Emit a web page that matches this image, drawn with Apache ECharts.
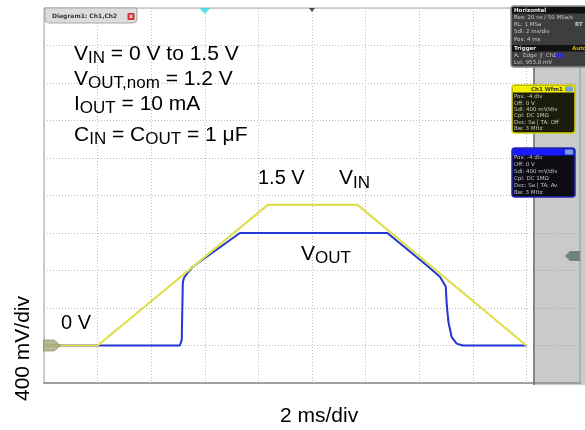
<!DOCTYPE html>
<html>
<head>
<meta charset="utf-8">
<script src="https://cdn.jsdelivr.net/npm/echarts@6/dist/echarts.min.js"></script>
<style>
  html, body { margin: 0; padding: 0; background: #fff; }
  #chart { width: 585px; height: 430px; }
</style>
</head>
<body>
<div id="chart"></div>
<script>
// Time base: 2 ms/div, 10 divisions; vertical: 400 mV/div, ground one division above bottom.
const xTicks = [0, 2, 4, 6, 8, 10, 12, 14, 16, 18, 20];          // ms
const yTicks = [-0.4, 0, 0.4, 0.8, 1.2, 1.6, 2.0, 2.4, 2.8, 3.2, 3.6]; // V

// CH1: input voltage ramp 0 V -> 1.5 V -> 0 V
const vinTime = [0, 2.0, 8.35, 11.7, 18.0];
const vinVolt = [0, 0, 1.5, 1.5, 0];

// CH2: regulator output, 1.2 V nominal
const voutTime = [0, 5.07, 5.14, 5.18, 5.22, 5.37, 5.55, 7.31, 12.81, 14.3, 14.78, 14.99, 15.03, 15.09, 15.21, 15.40, 15.62, 18.0];
const voutVolt = [0, 0, 0.06, 0.67, 0.72, 0.78, 0.84, 1.2, 1.2, 0.85, 0.73, 0.63, 0.43, 0.25, 0.09, 0.02, 0, 0];

// Scope markers: ground reference, trigger position, screen centre, trigger level
const markerTime = [0, 6, 10, 20];
const markerVolt = [0, 3.6, 3.6, 0.9538];

const FONT = '"Liberation Sans", Arial, Helvetica, sans-serif';
const MONO = '"DejaVu Sans", sans-serif';

const pairs = (t, v) => t.map((x, i) => [x, v[i]]);

const rich = {
  m: { fontSize: 21, fontFamily: FONT, fill: '#000' },
  s: { fontSize: 17, fontFamily: FONT, fill: '#000', padding: [9, 0, 0, 0] }
};

function richText(x, y, text) {
  return { type: 'text', x: x, y: y, z: 30,
    style: { text: text, rich: rich, align: 'left', verticalAlign: 'middle' } };
}
function plainText(x, y, text, size, opts) {
  return Object.assign({ type: 'text', x: x, y: y, z: 30,
    style: { text: text, fontSize: size, fontFamily: FONT, fill: '#000',
             align: 'left', verticalAlign: 'middle' } }, opts || {});
}
function tiny(x, y, text, color, bold) {
  return { type: 'text', x: x, y: y, z: 42,
    style: { text: text, fontSize: 5.5, fontFamily: MONO, fontWeight: bold ? 'bold' : 'normal',
             fill: color, align: 'left', verticalAlign: 'middle' } };
}
function box(x, y, w, h, body, border, z) {
  return [
    { type: 'rect', z: z, shape: { x: x, y: y, width: w, height: h, r: 3 },
      style: { fill: body, stroke: null } },
    { type: 'rect', z: z + 3, shape: { x: x, y: y, width: w, height: h, r: 3 },
      style: { fill: 'none', stroke: border, lineWidth: 1.5 } }
  ];
}

const chart = echarts.init(document.getElementById('chart'));

const hRows = ['Res: 20 ns / 50 MSa/s', 'RL: 1 MSa', 'Sdl: 2 ms/div', 'Pos: 4 ms'];
const trigRows = ['A:  Edge  \u0192  Ch1', 'Lvl: 953.8 mV'];
const ch1Rows = ['Pos: -4 div', 'Off: 0 V', 'Sdl: 400 mV/div', 'Cpl: DC 1M\u03a9', 'Dec: Sa | TA: Off', 'Bw: 3 MHz'];
const ch2Rows = ['Pos: -4 div', 'Off: 0 V', 'Sdl: 400 mV/div', 'Cpl: DC 1M\u03a9', 'Dec: Sa | TA: Av', 'Bw: 3 MHz'];

const graphics = [
  // side panel overlaying the right edge of the screen
  { type: 'rect', z: 10, shape: { x: 533, y: 8, width: 60, height: 377 },
    style: { fill: 'rgba(150,150,150,0.5)' } },
  { type: 'line', z: 11, shape: { x1: 534, y1: 8, x2: 534, y2: 385 },
    style: { stroke: '#6e6e6e', lineWidth: 1.5 } },

  // horizontal / trigger info box
  ...box(511, 6, 80, 61, '#3e3e3e', '#8a8a8a', 40),
  { type: 'rect', z: 41, shape: { x: 512, y: 7, width: 78, height: 6.5 }, style: { fill: '#111' } },
  tiny(514, 10.3, 'Horizontal', '#e8e8e8', true),
  ...hRows.map((t, i) => tiny(514, 17.8 + i * 7.1, t, '#c8c8c8')),
  tiny(575, 25, 'RT', '#c8c8c8', true),
  { type: 'rect', z: 41, shape: { x: 512, y: 45, width: 78, height: 6.5 }, style: { fill: '#111' } },
  tiny(514, 48.3, 'Trigger', '#e8e8e8', true),
  tiny(572, 48.3, 'Auto', '#d8b000', true),
  ...trigRows.map((t, i) => tiny(514, 55.3 + i * 6.8, t, '#c8c8c8')),
  { type: 'rect', z: 42, shape: { x: 556, y: 53, width: 8, height: 5 }, style: { fill: '#3030c8' } },

  // CH1 box
  ...box(512, 85, 63, 48, '#1c1c0c', '#d0d000', 40),
  { type: 'rect', z: 41, shape: { x: 512.5, y: 85.5, width: 62, height: 7 }, style: { fill: '#f0f000' } },
  tiny(531, 89.2, 'Ch1 Wfm1', '#333', true),
  { type: 'rect', z: 42, shape: { x: 565, y: 86.5, width: 8, height: 5, r: 1 }, style: { fill: '#7aa0d8' } },
  ...ch1Rows.map((t, i) => tiny(514, 97 + i * 6.3, t, '#c8c8b8')),

  // CH2 box
  ...box(512, 148, 63, 49, '#0c0c12', '#2828b8', 40),
  { type: 'rect', z: 41, shape: { x: 512.5, y: 148.5, width: 62, height: 7 }, style: { fill: '#1a1aff' } },
  { type: 'rect', z: 42, shape: { x: 565, y: 149.5, width: 8, height: 5, r: 1 }, style: { fill: '#7aa0d8' } },
  ...ch2Rows.map((t, i) => tiny(514, 158 + i * 6.9, t, '#c0c0c8')),

  // diagram tab
  { type: 'rect', z: 40, shape: { x: 45, y: 8, width: 92, height: 15, r: [0, 0, 4, 4] },
    style: { fill: '#dcdcdc', stroke: '#a8a8a8', lineWidth: 1 } },
  { type: 'text', z: 41, x: 52, y: 16.5,
    style: { text: 'Diagram1: Ch1,Ch2', fontSize: 6, fontWeight: 'bold', fontFamily: MONO,
             fill: '#333', align: 'left', verticalAlign: 'middle' } },
  { type: 'rect', z: 41, shape: { x: 127.5, y: 13, width: 7, height: 7, r: 1 }, style: { fill: '#d43030' } },
  { type: 'text', z: 42, x: 131, y: 16.5,
    style: { text: 'x', fontSize: 6, fontWeight: 'bold', fontFamily: MONO, fill: '#fff',
             align: 'center', verticalAlign: 'middle' } },

  // test conditions
  richText(74, 54, '{m|V}{s|IN}{m| = 0 V to 1.5 V}'),
  richText(74, 79, '{m|V}{s|OUT,nom}{m| = 1.2 V}'),
  richText(74, 104, '{m|I}{s|OUT}{m| = 10 mA}'),
  richText(74, 135, '{m|C}{s|IN}{m| = C}{s|OUT}{m| = 1 \u03bcF}'),

  // trace labels
  plainText(258, 178.5, '1.5 V', 20),
  richText(339, 178.5, '{m|V}{s|IN}'),
  richText(301, 254, '{m|V}{s|OUT}'),
  plainText(61, 323, '0 V', 20),

  // axis scale captions
  plainText(280, 416, '2 ms/div', 21),
  { type: 'text', z: 30, x: 23, y: 348.5, rotation: Math.PI / 2,
    style: { text: '400 mV/div', fontSize: 21, fontFamily: FONT, fill: '#000',
             align: 'center', verticalAlign: 'middle' } }
];

const markerStyles = [
  { symbol: 'path://M0,0 L10,0 L16,6 L10,12 L0,12 Z', symbolSize: [17, 11], symbolOffset: [8, 0],
    itemStyle: { color: '#a6a67c', borderColor: '#85855c', borderWidth: 0.8 } },
  { symbol: 'path://M0,0 L10,0 L5,6 Z', symbolSize: [11, 6], symbolOffset: [0, 3],
    itemStyle: { color: '#33d6e2' } },
  { symbol: 'path://M0,0 L10,0 L5,7 Z', symbolSize: [6, 4], symbolOffset: [0, 2],
    itemStyle: { color: '#222' } },
  { symbol: 'path://M0,5 L5,0 L15,0 L15,10 L5,10 Z', symbolSize: [15, 10], symbolOffset: [-7.5, 0],
    itemStyle: { color: '#587070' } }
];

const axisCommon = {
  type: 'value',
  axisLabel: { show: false },
  axisTick: { show: false },
  splitLine: { show: true, lineStyle: { color: '#bdbdbd', width: 1, type: [1, 2] } }
};

chart.setOption({
  animation: false,
  backgroundColor: '#fff',
  grid: { left: 44, top: 8, width: 536, height: 375, show: true,
          borderColor: '#a6a6a6', borderWidth: 1, backgroundColor: '#fff' },
  xAxis: Object.assign({}, axisCommon, {
    min: xTicks[0], max: xTicks[xTicks.length - 1], interval: xTicks[1] - xTicks[0],
    axisLine: { show: true, onZero: false, lineStyle: { color: '#a0a0a0', width: 2 } }
  }),
  yAxis: Object.assign({}, axisCommon, {
    min: yTicks[0], max: yTicks[yTicks.length - 1], interval: 0.4,
    axisLine: { show: true, onZero: false, lineStyle: { color: '#c4c4c4', width: 1 } }
  }),
  series: [
    { name: 'VOUT', type: 'line', z: 3, data: pairs(voutTime, voutVolt), showSymbol: false,
      lineStyle: { color: '#2236d6', width: 2 }, itemStyle: { color: '#2236d6' } },
    { name: 'VIN', type: 'line', z: 4, data: pairs(vinTime, vinVolt), showSymbol: false,
      lineStyle: { color: '#e0e04c', width: 2.2 }, itemStyle: { color: '#e0e04c' } },
    { name: 'markers', type: 'scatter', z: 20, clip: false, silent: true,
      data: markerTime.map((t, i) => Object.assign({ value: [t, markerVolt[i]] }, markerStyles[i])) }
  ],
  graphic: { elements: graphics }
});
</script>
</body>
</html>
